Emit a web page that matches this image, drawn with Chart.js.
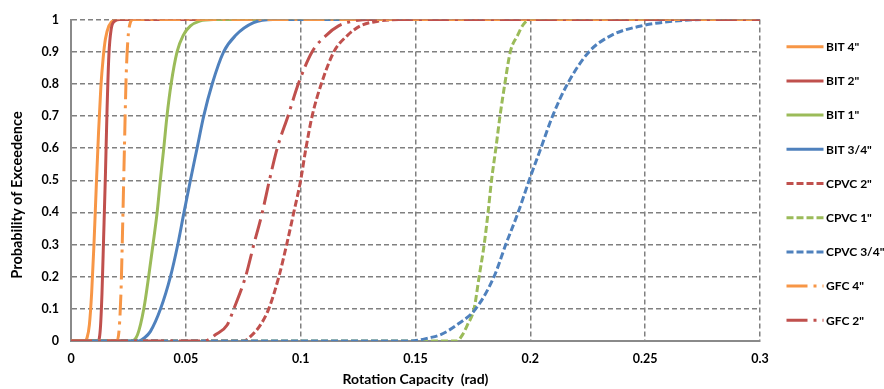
<!DOCTYPE html>
<html>
<head>
<meta charset="utf-8">
<script src="https://cdn.jsdelivr.net/npm/chart.js@4/dist/chart.umd.min.js"></script>
<style>
  html, body { margin: 0; padding: 0; background: #ffffff; }
  #wrap { width: 884px; height: 389px; }
</style>
</head>
<body>
<div id="wrap"><canvas id="chart" width="884" height="389"></canvas></div>
<script>
// Fragility curves: probability of exceedence vs rotation capacity (rad)
const seriesNames = ['BIT 4"', 'BIT 2"', 'BIT 1"', 'BIT 3/4"', 'CPVC 2"', 'CPVC 1"', 'CPVC 3/4"', 'GFC 4"', 'GFC 2"'];

const xTickValues = [0, 0.05, 0.1, 0.15, 0.2, 0.25, 0.3];
const xTickLabels = ['0', '0.05', '0.1', '0.15', '0.2', '0.25', '0.3'];
const yTickValues = [0, 0.1, 0.2, 0.3, 0.4, 0.5, 0.6, 0.7, 0.8, 0.9, 1];
const yTickLabels = ['0', '0.1', '0.2', '0.3', '0.4', '0.5', '0.6', '0.7', '0.8', '0.9', '1'];

const bit4X = [0, 0.0060, 0.0070, 0.0080, 0.0090, 0.0100, 0.0110, 0.0120, 0.0130, 0.0140, 0.0150, 0.0165, 0.0185, 0.0210, 0.3];
const bit4Y = [0, 0, 0.01, 0.05, 0.15, 0.30, 0.48, 0.65, 0.79, 0.88, 0.94, 0.98, 0.997, 1, 1];

const bit2X = [0, 0.0118, 0.0128, 0.0135, 0.0142, 0.0150, 0.0157, 0.0165, 0.0175, 0.0190, 0.0210, 0.3];
const bit2Y = [0, 0, 0.04, 0.15, 0.32, 0.52, 0.72, 0.89, 0.97, 0.995, 1, 1];

const bit1X = [0, 0.0265, 0.0290, 0.0317, 0.0338, 0.0357, 0.0375, 0.0389, 0.0404, 0.0418, 0.0436, 0.0462, 0.0488, 0.0520, 0.0560, 0.0620, 0.3];
const bit1Y = [0, 0, 0.02, 0.10, 0.20, 0.30, 0.40, 0.50, 0.60, 0.70, 0.80, 0.90, 0.95, 0.98, 0.995, 1, 1];

const bit34X = [0, 0.0295, 0.0320, 0.0346, 0.0390, 0.0433, 0.0465, 0.0492, 0.0520, 0.0549, 0.0578, 0.0615, 0.0665, 0.0716, 0.0795, 0.0880, 0.3];
const bit34Y = [0, 0, 0.01, 0.03, 0.10, 0.20, 0.30, 0.40, 0.50, 0.60, 0.70, 0.80, 0.90, 0.95, 0.99, 1, 1];

const cpvc2X = [0, 0.0750, 0.0790, 0.0825, 0.0861, 0.0905, 0.0939, 0.0970, 0.1000, 0.1023, 0.1050, 0.1090, 0.1145, 0.1203, 0.1260, 0.1340, 0.1440, 0.3];
const cpvc2Y = [0, 0, 0.02, 0.05, 0.10, 0.20, 0.30, 0.40, 0.50, 0.60, 0.70, 0.80, 0.90, 0.95, 0.98, 0.995, 1, 1];

const cpvc1X = [0, 0.1680, 0.1705, 0.1726, 0.1755, 0.1777, 0.1799, 0.1816, 0.1831, 0.1850, 0.1868, 0.1889, 0.1913, 0.1944, 0.1970, 0.2000, 0.3];
const cpvc1Y = [0, 0, 0.02, 0.05, 0.10, 0.20, 0.30, 0.40, 0.50, 0.60, 0.70, 0.80, 0.90, 0.95, 0.985, 1, 1];

const cpvc34X = [0, 0.1480, 0.1560, 0.1610, 0.1680, 0.1762, 0.1842, 0.1893, 0.1947, 0.1995, 0.2046, 0.2097, 0.2162, 0.2256, 0.2351, 0.2482, 0.2627, 0.2770, 0.3];
const cpvc34Y = [0, 0, 0.01, 0.02, 0.05, 0.10, 0.20, 0.30, 0.40, 0.50, 0.60, 0.70, 0.80, 0.90, 0.95, 0.98, 0.995, 1, 1];

const gfc4X = [0, 0.0200, 0.0210, 0.0218, 0.0225, 0.0232, 0.0240, 0.0248, 0.0258, 0.0270, 0.3];
const gfc4Y = [0, 0, 0.04, 0.16, 0.36, 0.58, 0.82, 0.94, 0.99, 1, 1];

const gfc2X = [0, 0.0580, 0.0630, 0.0680, 0.0709, 0.0760, 0.0796, 0.0833, 0.0864, 0.0898, 0.0945, 0.0990, 0.1050, 0.1110, 0.1165, 0.1230, 0.1300, 0.3];
const gfc2Y = [0, 0, 0.02, 0.05, 0.10, 0.20, 0.30, 0.40, 0.50, 0.60, 0.70, 0.80, 0.90, 0.95, 0.98, 0.995, 1, 1];

const seriesX = [bit4X, bit2X, bit1X, bit34X, cpvc2X, cpvc1X, cpvc34X, gfc4X, gfc2X];
const seriesY = [bit4Y, bit2Y, bit1Y, bit34Y, cpvc2Y, cpvc1Y, cpvc34Y, gfc4Y, gfc2Y];

// Line styles
const ORANGE = '#F79646', RED = '#C0504D', GREEN = '#9BBB59', BLUE = '#4F81BD';
const SOLID = [], DASH = [7, 3], DASHDOT = [21, 6, 3, 6];
const seriesColors = [ORANGE, RED, GREEN, BLUE, RED, GREEN, BLUE, ORANGE, RED];
const seriesDashes = [SOLID, SOLID, SOLID, SOLID, DASH, DASH, DASH, DASHDOT, DASHDOT];

const FONT = 'Lato, "Open Sans", sans-serif';

const datasets = seriesNames.map((name, i) => ({
  label: name,
  data: seriesX[i].map((x, j) => ({ x: x, y: seriesY[i][j] })),
  borderColor: seriesColors[i],
  backgroundColor: seriesColors[i],
  borderDash: seriesDashes[i],
  borderWidth: 3,
  borderCapStyle: 'butt',
  pointRadius: 0,
  pointHoverRadius: 0,
  fill: false,
  cubicInterpolationMode: 'monotone',
  order: seriesNames.length - i
}));

// Legend column on the right and the rotated y-axis title
const sideLegend = {
  id: 'sideLegend',
  afterDraw(chart) {
    const ctx = chart.ctx;
    const left = chart.chartArea.right + 26.5;
    ctx.save();
    chart.data.datasets.forEach((ds, i) => {
      const y = 46.7 + i * 34.2;
      ctx.beginPath();
      ctx.setLineDash(ds.borderDash);
      ctx.lineCap = 'butt';
      ctx.strokeStyle = ds.borderColor;
      ctx.lineWidth = 3;
      ctx.moveTo(left, y);
      ctx.lineTo(left + 37, y);
      ctx.stroke();
      ctx.setLineDash([]);
      ctx.fillStyle = '#000000';
      ctx.font = 'bold 12px ' + FONT;
      ctx.textAlign = 'left';
      ctx.textBaseline = 'middle';
      ctx.fillText(ds.label, left + 39.5, y + 0.5);
    });
    ctx.translate(17, 195);
    ctx.rotate(-Math.PI / 2);
    ctx.font = 'bold 14.5px ' + FONT;
    ctx.textAlign = 'center';
    ctx.textBaseline = 'middle';
    ctx.fillStyle = '#000000';
    ctx.fillText('Probability of Exceedence', 0, 0);
    ctx.restore();
  }
};

const gridStyle = { color: '#808080', lineWidth: 1.5, drawTicks: false };
const borderStyle = { display: true, color: '#8a8a8a', width: 2, dash: [5, 3] };

new Chart(document.getElementById('chart'), {
  type: 'line',
  data: { datasets: datasets },
  plugins: [sideLegend],
  options: {
    responsive: false,
    devicePixelRatio: 1,
    animation: false,
    layout: { padding: { top: 16, right: 124, left: 0, bottom: 0 } },
    plugins: {
      legend: { display: false },
      tooltip: { enabled: false }
    },
    scales: {
      x: {
        type: 'linear',
        min: 0,
        max: 0.3,
        afterBuildTicks: s => { s.ticks = xTickValues.map(v => ({ value: v })); },
        afterFit: s => { s.height = 48; },
        grid: gridStyle,
        border: borderStyle,
        ticks: {
          autoSkip: false,
          maxRotation: 0,
          padding: 10,
          color: '#000000',
          font: { family: FONT, size: 12.5, weight: 'bold' },
          callback: (v, i) => xTickLabels[i]
        },
        title: {
          display: true,
          text: 'Rotation Capacity  (rad)',
          color: '#000000',
          font: { family: FONT, size: 14, weight: 'bold' },
          padding: { top: 0, bottom: 1 }
        }
      },
      y: {
        type: 'linear',
        min: 0,
        max: 1,
        afterBuildTicks: s => { s.ticks = yTickValues.map(v => ({ value: v })); },
        afterFit: s => { s.width = 71; },
        grid: gridStyle,
        border: borderStyle,
        ticks: {
          autoSkip: false,
          padding: 12,
          color: '#000000',
          font: { family: FONT, size: 12.5, weight: 'bold' },
          callback: (v, i) => yTickLabels[i]
        }
      }
    }
  }
});
</script>
</body>
</html>
